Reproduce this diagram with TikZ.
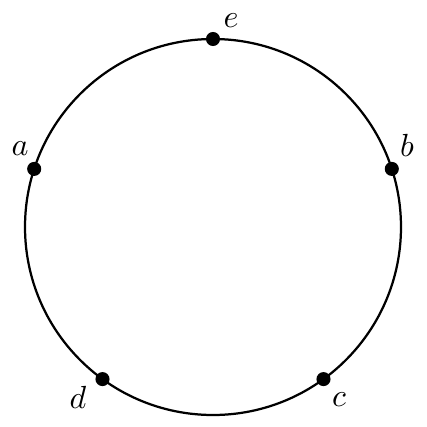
\documentclass[tikz,border=0pt]{standalone}
\begin{document}
\begin{tikzpicture}[x=0.3125pt,y=-0.3125pt,
  dot/.style={circle,fill=black,inner sep=0pt,minimum size=4.4pt},
  lbl/.style={inner sep=0pt},
  ring/.style={line width=0.7pt}]
\useasboundingbox (0,0) rectangle (426,427);
\coordinate (o) at (213,227);
\draw[ring] (o) circle[radius=188];
\node[dot] (e) at (213,39) {};
\node[dot] (a) at (34.2,168.9) {};
\node[dot] (b) at (391.8,168.9) {};
\node[dot] (d) at (102.5,379.1) {};
\node[dot] (c) at (323.5,379.1) {};
\node[lbl] (le) at (231,21) {$e$};
\node[lbl] (la) at (20,149) {$a$};
\node[lbl] (lb) at (407,145) {$b$};
\node[lbl] (ld) at (78,397) {$d$};
\node[lbl] (lc) at (339,400) {$c$};
\end{tikzpicture}
\end{document}
